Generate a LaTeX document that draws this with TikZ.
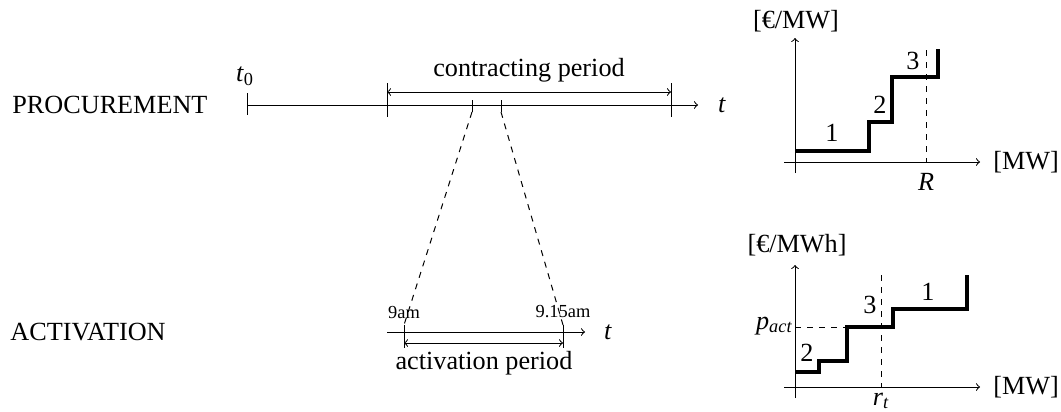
\documentclass[tikz,border=0pt]{standalone}
\usepackage{fontspec}
\setmainfont{Liberation Serif}
\begin{document}
\begin{tikzpicture}[x=0.5pt,y=-0.5pt,
  lbl/.style={inner sep=0pt, font=\fontsize{13.1}{15}\selectfont},
  small/.style={inner sep=0pt, font=\fontsize{9.2}{11}\selectfont},
  axis/.style={->, line width=0.5pt},
  tickline/.style={line width=0.5pt},
  span/.style={<->, line width=0.5pt},
  zoomline/.style={dashed, line width=0.5pt},
  guide/.style={dashed, line width=0.5pt},
  stepcurve/.style={line width=2pt, line join=miter}]
\useasboundingbox (0,0) rectangle (1061,412);

% ---------------- PROCUREMENT ----------------
\node[lbl, anchor=west] (proc) at (12,105) {PROCUREMENT};
\coordinate (pa) at (247,105);
\coordinate (pe) at (698,105);
\draw[axis] (pa) -- (pe);
\node[lbl] (pt) at (722,105) {\textit{t}};
\node[lbl] (t0) at (245,76) {\textit{t}\textsubscript{0}};
\draw[tickline] (247,93) -- (247,115);
\draw[tickline] (387,83) -- (387,117);
\draw[tickline] (671,83) -- (671,117);
\coordinate (cs) at (387,92);
\coordinate (ce) at (671,92);
\draw[span] (cs) -- (ce);
\node[lbl] (cp) at (529,70) {contracting period};
\draw[tickline] (472,100) -- (472,112);
\draw[tickline] (501,100) -- (501,112);
\coordinate (zl) at (472,112);
\coordinate (zr) at (501,112);

% ---------------- ACTIVATION ----------------
\node[lbl, anchor=west] (act) at (10,332) {ACTIVATION};
\coordinate (aa) at (387,332);
\coordinate (ae) at (585,332);
\draw[axis] (aa) -- (ae);
\node[lbl] (at) at (608,332) {\textit{t}};
\draw[tickline] (404,325) -- (404,348);
\draw[tickline] (563,325) -- (563,348);
\coordinate (al) at (404,325);
\coordinate (ar) at (563,325);
\node[small] (nine) at (404,312) {9am};
\node[small] (ninefifteen) at (563,312) {9.15am};
\coordinate (as) at (404,343);
\coordinate (aend) at (563,343);
\draw[span] (as) -- (aend);
\node[lbl] (ap) at (484,363) {activation period};

\draw[zoomline] (zl) -- (al);
\draw[zoomline] (zr) -- (ar);

% ---------------- capacity bid chart ----------------
\coordinate (c1o) at (795,173);
\coordinate (c1t) at (795,38);
\draw[axis] (c1o) -- (c1t);
\coordinate (c1xa) at (784,162);
\coordinate (c1xe) at (980,162);
\draw[axis] (c1xa) -- (c1xe);
\node[lbl] (c1y) at (796,21) {[€/MW]};
\node[lbl, anchor=west] (c1x) at (993,162) {[MW]};
\node[lbl] (R) at (926,182) {\textit{R}};
\draw[guide] (926,50) -- (926,162);
\draw[stepcurve] (795,151) -- (869,151) -- (869,122) -- (892,122) -- (892,77) -- (938,77) -- (938,49);
\node[lbl] (c1n1) at (832,133) {1};
\node[lbl] (c1n2) at (880,105) {2};
\node[lbl] (c1n3) at (913,61) {3};

% ---------------- energy bid chart ----------------
\coordinate (c2o) at (795,398);
\coordinate (c2t) at (795,265);
\draw[axis] (c2o) -- (c2t);
\coordinate (c2xa) at (784,387);
\coordinate (c2xe) at (980,387);
\draw[axis] (c2xa) -- (c2xe);
\node[lbl] (c2y) at (797,245) {[€/MWh]};
\node[lbl, anchor=west] (c2x) at (993,387) {[MW]};
\node[lbl, anchor=base east] (pact) at (793,329) {\textit{p}\textsubscript{\itshape act}};
\draw[guide] (795,327) -- (847,327);
\draw[guide] (881,275) -- (881,387);
\node[lbl, anchor=base] (rt) at (881,405) {\textit{r}\textsubscript{\itshape t}};
\draw[stepcurve] (795,372) -- (819,372) -- (819,361) -- (847,361) -- (847,327) -- (893,327) -- (893,309) -- (967,309) -- (967,275);
\node[lbl] (c2n2) at (807,353) {2};
\node[lbl] (c2n3) at (870,305) {3};
\node[lbl] (c2n1) at (928,292) {1};
\end{tikzpicture}
\end{document}
